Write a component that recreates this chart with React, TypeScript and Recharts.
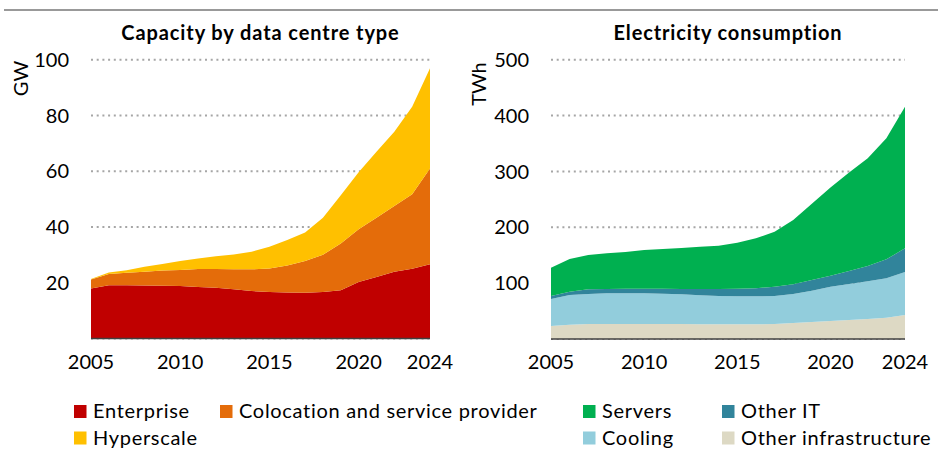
import React from "react";
import { AreaChart, Area, XAxis, YAxis, CartesianGrid } from "recharts";

const years = [2005, 2006, 2007, 2008, 2009, 2010, 2011, 2012, 2013, 2014, 2015, 2016, 2017, 2018, 2019, 2020, 2021, 2022, 2023, 2024];
const xTicks = [2005, 2010, 2015, 2020, 2024];

// Capacity by data centre type (GW)
const enterprise = [17.9, 19.1, 19.1, 19.0, 18.9, 18.8, 18.5, 18.2, 17.7, 17.0, 16.7, 16.5, 16.4, 16.7, 17.3, 20.3, 22.1, 23.9, 25.0, 26.6];
const colocation = [3.3, 4.0, 4.5, 4.9, 5.5, 5.8, 6.4, 6.7, 7.1, 7.8, 8.4, 9.7, 11.4, 13.3, 16.8, 18.9, 21.2, 23.6, 26.7, 34.4];
const hyperscale = [0.1, 0.6, 0.9, 1.8, 2.3, 3.2, 3.8, 4.6, 5.3, 6.3, 7.8, 9.1, 10.2, 13.3, 17.3, 20.4, 23.7, 26.7, 31.4, 35.9];
const capacityTicks = [20, 40, 60, 80, 100];

// Electricity consumption (TWh)
const otherInfra = [23.3, 25.7, 26.8, 26.8, 26.8, 26.8, 26.8, 26.8, 26.3, 26.3, 26.3, 26.3, 26.8, 28.6, 30.4, 32.2, 34.0, 35.8, 38.2, 43.0];
const cooling = [48.3, 53.1, 53.7, 54.9, 54.9, 54.9, 54.3, 53.2, 51.9, 50.7, 50.1, 50.1, 50.2, 51.9, 56.1, 61.5, 64.4, 67.4, 70.4, 77.0];
const otherIT = [5.4, 5.9, 8.4, 7.8, 8.4, 8.4, 9.0, 9.5, 11.3, 12.5, 13.7, 14.3, 16.7, 17.4, 19.1, 19.7, 23.3, 27.5, 34.0, 42.3];
const servers = [50.7, 58.5, 61.5, 63.9, 65.7, 69.2, 71.0, 73.4, 75.8, 77.6, 82.3, 89.5, 98.4, 115.1, 136.4, 157.6, 176.3, 192.7, 216.6, 253.6];
const energyTicks = [100, 200, 300, 400, 500];

const capacityData = years.map((year, i) => ({
  year,
  Enterprise: enterprise[i],
  Colocation: colocation[i],
  Hyperscale: hyperscale[i],
}));

const energyData = years.map((year, i) => ({
  year,
  OtherInfra: otherInfra[i],
  Cooling: cooling[i],
  OtherIT: otherIT[i],
  Servers: servers[i],
}));

const FONT = "Lato, 'Noto Sans', sans-serif";
const tickStyle = { fill: "#000", fontSize: 20, fontFamily: FONT };

const legendItems = [
  { x: 74, row: 0, color: "#C00000", label: "Enterprise" },
  { x: 220, row: 0, color: "#E46C0A", label: "Colocation and service provider" },
  { x: 74, row: 1, color: "#FFC000", label: "Hyperscale" },
  { x: 583, row: 0, color: "#00B050", label: "Servers" },
  { x: 722, row: 0, color: "#31849B", label: "Other IT" },
  { x: 583, row: 1, color: "#92CDDC", label: "Cooling" },
  { x: 722, row: 1, color: "#DDD9C4", label: "Other infrastructure" },
];

export default function App() {
  return (
    <div style={{ position: "absolute", left: 0, top: 0, width: 938, height: 449, background: "#fff", overflow: "hidden" }}>
      <div style={{ position: "absolute", left: 0, top: 0 }}>
        <AreaChart width={470} height={390} data={capacityData} margin={{ top: 59.7, right: 40, bottom: 0, left: 0 }}>
          <CartesianGrid vertical={false} stroke="#a6a6a6" strokeWidth={2} strokeDasharray="2 3.7" />
          <XAxis
            dataKey="year"
            type="number"
            domain={[2005, 2024]}
            ticks={xTicks}
            height={51.5}
            tickLine={false}
            tickSize={0}
            tickMargin={16}
            axisLine={{ stroke: "#404040", strokeWidth: 1.5 }}
            tick={tickStyle}
            interval={0}
          />
          <YAxis
            type="number"
            domain={[0, 100]}
            ticks={capacityTicks}
            width={91}
            axisLine={false}
            tickLine={false}
            tickSize={0}
            tickMargin={22}
            tick={tickStyle}
            interval={0}
          />
          <Area type="linear" dataKey="Enterprise" stackId="a" stroke="none" fill="#C00000" fillOpacity={1} isAnimationActive={false} />
          <Area type="linear" dataKey="Colocation" stackId="a" stroke="none" fill="#E46C0A" fillOpacity={1} isAnimationActive={false} />
          <Area type="linear" dataKey="Hyperscale" stackId="a" stroke="none" fill="#FFC000" fillOpacity={1} isAnimationActive={false} />
        </AreaChart>
      </div>

      <div style={{ position: "absolute", left: 470, top: 0 }}>
        <AreaChart width={468} height={390} data={energyData} margin={{ top: 59.7, right: 33, bottom: 0, left: 0 }}>
          <CartesianGrid vertical={false} stroke="#a6a6a6" strokeWidth={2} strokeDasharray="2 3.7" />
          <XAxis
            dataKey="year"
            type="number"
            domain={[2005, 2024]}
            ticks={xTicks}
            height={51}
            tickLine={false}
            tickSize={0}
            tickMargin={16}
            axisLine={{ stroke: "#404040", strokeWidth: 1.5 }}
            tick={tickStyle}
            interval={0}
          />
          <YAxis
            type="number"
            domain={[0, 500]}
            ticks={energyTicks}
            width={81}
            axisLine={false}
            tickLine={false}
            tickSize={0}
            tickMargin={22}
            tick={tickStyle}
            interval={0}
          />
          <Area type="linear" dataKey="OtherInfra" stackId="b" stroke="none" fill="#DDD9C4" fillOpacity={1} isAnimationActive={false} />
          <Area type="linear" dataKey="Cooling" stackId="b" stroke="none" fill="#92CDDC" fillOpacity={1} isAnimationActive={false} />
          <Area type="linear" dataKey="OtherIT" stackId="b" stroke="none" fill="#31849B" fillOpacity={1} isAnimationActive={false} />
          <Area type="linear" dataKey="Servers" stackId="b" stroke="none" fill="#00B050" fillOpacity={1} isAnimationActive={false} />
        </AreaChart>
      </div>

      <svg width={938} height={449} style={{ position: "absolute", left: 0, top: 0, pointerEvents: "none" }}>
        <rect x={4} y={9} width={934} height={2} fill="#999" />
        <text x={260.5} y={40} textAnchor="middle" fontFamily={FONT} fontWeight={700} fontSize={20} fill="#000" style={{ letterSpacing: "0.9px" }}>
          Capacity by data centre type
        </text>
        <text x={728} y={40} textAnchor="middle" fontFamily={FONT} fontWeight={700} fontSize={20} fill="#000" style={{ letterSpacing: "0.85px" }}>
          Electricity consumption
        </text>
        <text transform="translate(20,78.5) rotate(-90)" textAnchor="middle" dominantBaseline="central" fontFamily={FONT} fontSize={20} fill="#000">
          GW
        </text>
        <text transform="translate(478,84) rotate(-90)" textAnchor="middle" dominantBaseline="central" fontFamily={FONT} fontSize={20} fill="#000">
          TWh
        </text>
        {legendItems.map((it) => {
          const base = it.row === 0 ? 418 : 444.5;
          return (
            <g key={it.label}>
              <rect x={it.x} y={base - 13} width={12.5} height={13} fill={it.color} />
              <text x={it.x + 19} y={base} fontFamily={FONT} fontSize={20} fill="#000" style={{ letterSpacing: "0.7px" }}>
                {it.label}
              </text>
            </g>
          );
        })}
      </svg>
    </div>
  );
}
